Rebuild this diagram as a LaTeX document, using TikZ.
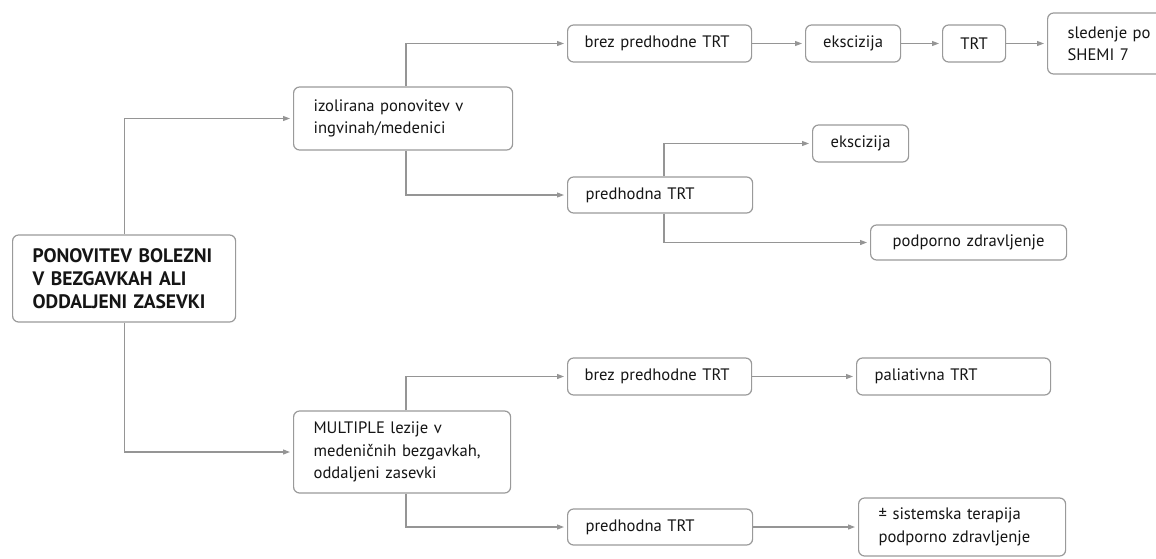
\documentclass[tikz,border=0pt]{standalone}
\usepackage{fontspec}
\setmainfont{PT Sans}
\usetikzlibrary{arrows.meta}
\definecolor{boxgray}{HTML}{9A9A9A}
\definecolor{lngray}{HTML}{959595}
\definecolor{txt}{HTML}{151515}
\tikzset{
  bx/.style={draw=boxgray, line width=1.2pt, rounded corners=6pt, fill=white,
    anchor=west, inner xsep=18pt, inner ysep=0pt, align=left, text=txt,
    font=\fontsize{16.6}{22.5}\selectfont},
  cbx/.style={bx, align=center, inner xsep=0pt},
  ln/.style={draw=lngray, line width=1.1pt},
  ar/.style={ln, shorten >=3pt, -{Triangle[length=7pt,width=5pt]}},
}
\begin{document}
\begin{tikzpicture}[x=1pt,y=-1pt]
\useasboundingbox[fill=white] (0,0) rectangle (1156,558);
\coordinate (b1) at (406,0);
\coordinate (b2) at (664,0);
% nodes
\node[bx, inner xsep=20pt, text width=183pt, minimum height=87pt,
  font=\fontsize{19.5}{23}\selectfont\bfseries] (main) at (12,278.5)
  {PONOVITEV BOLEZNI\\V BEZGAVKAH ALI\\ODDALJENI ZASEVKI};
\node[bx, inner xsep=20pt, text width=179pt, minimum height=63pt] (izo) at (293,118.5)
  {izolirana ponovitev v\\ingvinah/medenici};
\node[bx, inner xsep=20pt, text width=177pt, minimum height=82pt] (mult) at (293,452)
  {MULTIPLE lezije v\\medeničnih bezgavkah,\\oddaljeni zasevki};
\node[bx, inner xsep=17pt, text width=150pt, minimum height=37pt] (brez1) at (567,43.5) {brez predhodne TRT};
\node[cbx, text width=95pt, minimum height=37pt] (eks1) at (805,43.5) {ekscizija};
\node[cbx, text width=63pt, minimum height=37pt] (trt) at (942,43.5) {TRT};
\node[bx, inner xsep=20pt, text width=100pt, minimum height=61pt] (sled) at (1047,43.5)
  {sledenje po\\SHEMI 7};
\node[bx, text width=149pt, minimum height=36pt] (pred1) at (567,195) {predhodna TRT};
\node[cbx, text width=96pt, minimum height=37pt] (eks2) at (812,143.5) {ekscizija};
\node[cbx, text width=196pt, minimum height=35pt] (pod) at (870,242.5) {podporno zdravljenje};
\node[bx, inner xsep=17pt, text width=150pt, minimum height=37pt] (brez2) at (567,376.5) {brez predhodne TRT};
\node[bx, text width=158pt, minimum height=37pt] (pal) at (856,376.5) {paliativna TRT};
\node[bx, text width=149pt, minimum height=36pt] (pred2) at (567,527) {predhodna TRT};
\node[bx, inner xsep=20pt, text width=167pt, minimum height=58pt] (pm) at (858,527)
  {± sistemska terapija\\podporno zdravljenje};
% connectors
\draw[ar] (main.north) |- (izo.west);
\draw[ar] (main.south) |- (mult.west);
\draw[ar] (izo.north -| b1) |- (brez1.west);
\draw[ar] (izo.south -| b1) |- (pred1.west);
\draw[ar] (brez1.east) -- (eks1.west);
\draw[ar] (eks1.east) -- (trt.west);
\draw[ar] (trt.east) -- (sled.west);
\draw[ar] (pred1.north -| b2) |- (eks2.west);
\draw[ar] (pred1.south -| b2) |- (pod.west);
\draw[ar] (mult.north -| b1) |- (brez2.west);
\draw[ar] (mult.south -| b1) |- (pred2.west);
\draw[ar] (brez2.east) -- (pal.west);
\draw[ar] (pred2.east) -- (pm.west);
\end{tikzpicture}
\end{document}
